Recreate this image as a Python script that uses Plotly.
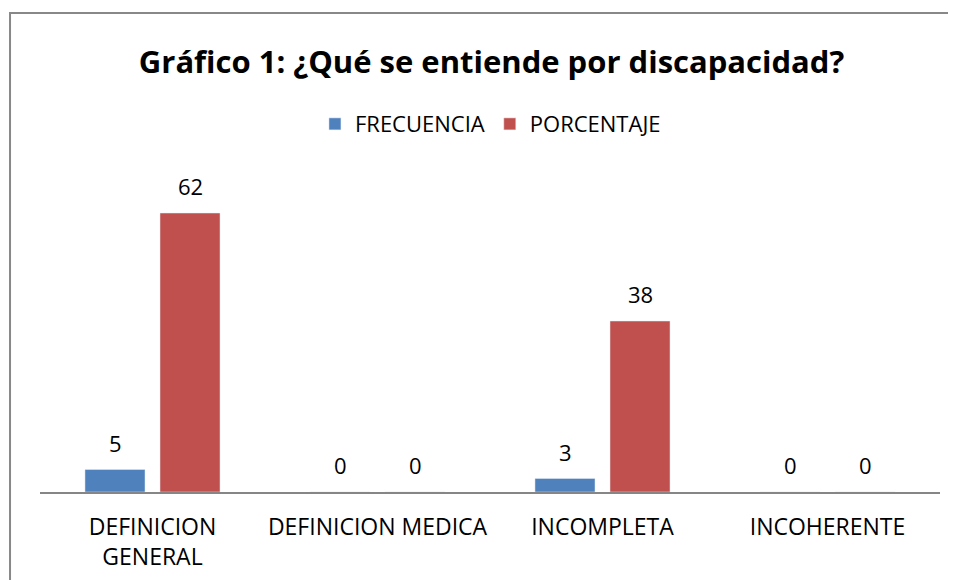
import plotly.graph_objects as go

categories = ["DEFINICION<br>GENERAL", "DEFINICION MEDICA", "INCOMPLETA", "INCOHERENTE"]
frecuencia = [5, 0, 3, 0]
porcentaje = [62, 0, 38, 0]

BLUE = "#4F81BD"
RED = "#C0504D"
FONT = "Open Sans"

fig = go.Figure()
fig.add_trace(go.Bar(x=categories, y=frecuencia, name="FRECUENCIA", marker_color=BLUE))
fig.add_trace(go.Bar(x=categories, y=porcentaje, name="PORCENTAJE", marker_color=RED))

# value labels sit well above each bar, like the Excel original
for vals, shift in ((frecuencia, -37.5), (porcentaje, 37.5)):
    for cat, v in zip(categories, vals):
        fig.add_annotation(
            x=cat, y=v, text=str(v), showarrow=False,
            xshift=shift, yshift=10, yanchor="bottom",
            font=dict(family=FONT, size=22, color="#000000"),
        )

# outer chart frame
fig.add_shape(
    type="rect", xref="paper", yref="paper",
    x0=-0.0333, x1=1.0133, y0=-0.34, y1=1.5206,
    line=dict(color="#888888", width=2), layer="below",
)

# page body has an 8px margin, so margins are trimmed by 8px
fig.update_layout(
    width=956, height=580,
    margin=dict(l=32, r=24, t=169, b=96),
    paper_bgcolor="white", plot_bgcolor="white",
    barmode="group", bargap=0.333, bargroupgap=0.2,
    font=dict(family=FONT, size=22, color="#000000"),
    title=dict(
        text="<b>Gráfico 1: ¿Qué se entiende por discapacidad?</b>",
        x=0.5058, xanchor="center", y=0.907, yanchor="middle",
        font=dict(family=FONT, size=31, color="#000000"),
    ),
    legend=dict(
        orientation="h", x=0.5005, xanchor="center", y=1.168, yanchor="middle",
        font=dict(family=FONT, size=22), itemwidth=30,
    ),
    showlegend=True,
)
fig.update_xaxes(
    showline=True, linecolor="#868686", linewidth=1.5,
    ticks="", ticklabelstandoff=14, tickfont=dict(size=23),
)
fig.update_yaxes(range=[0, 70], visible=False)

fig.write_html("out.html")
